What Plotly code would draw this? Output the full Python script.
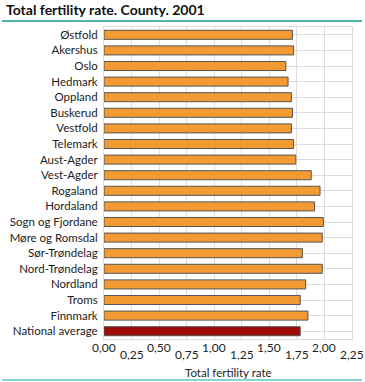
import plotly.graph_objects as go

counties = ["Østfold", "Akershus", "Oslo", "Hedmark", "Oppland", "Buskerud", "Vestfold",
            "Telemark", "Aust-Agder", "Vest-Agder", "Rogaland", "Hordaland", "Sogn og Fjordane",
            "Møre og Romsdal", "Sør-Trøndelag", "Nord-Trøndelag", "Nordland", "Troms",
            "Finnmark", "National average"]
values = [1.71, 1.72, 1.65, 1.67, 1.70, 1.71, 1.70, 1.72, 1.74, 1.88, 1.96, 1.91, 1.99,
          1.98, 1.80, 1.98, 1.83, 1.78, 1.85, 1.78]
tick_vals_upper = [0.0, 0.5, 1.0, 1.5, 2.0]
tick_text_upper = ["0,00", "0,50", "1,00", "1,50", "2,00"]
tick_vals_lower = [0.25, 0.75, 1.25, 1.75, 2.25]
tick_text_lower = ["0,25", "0,75", "1,25", "1,75", "2,25"]

colors = ["#f39a32"] * (len(counties) - 1) + ["#9b0d06"]

fig = go.Figure()
fig.add_trace(go.Bar(
    x=values, y=counties, orientation="h",
    marker=dict(color=colors, line=dict(color="#555555", width=1)),
    hoverinfo="x+y",
))

font_family = "Lato, Open Sans, Liberation Sans, Arial, sans-serif"
PH = 312.0  # plot height in px
PW = 248.0  # plot width in px

tick_annotations = []
for v, t in zip(tick_vals_upper, tick_text_upper):
    tick_annotations.append(dict(text=t, xref="x", yref="paper", x=v, y=-8/PH,
                                 xanchor="center", yanchor="middle", showarrow=False,
                                 font=dict(size=12, color="#222222")))
for v, t in zip(tick_vals_lower, tick_text_lower):
    tick_annotations.append(dict(text=t, xref="x", yref="paper", x=v, y=-15.5/PH,
                                 xanchor="center", yanchor="middle", showarrow=False,
                                 font=dict(size=12, color="#222222")))

fig.update_layout(
    width=365, height=382,
    margin=dict(l=104, r=13, t=27, b=43, autoexpand=False),
    paper_bgcolor="white", plot_bgcolor="white",
    showlegend=False,
    bargap=0.42,
    font=dict(family=font_family, size=11.5, color="#222222"),
    xaxis=dict(
        range=[0, 2.25], tickvals=sorted(tick_vals_upper + tick_vals_lower),
        showticklabels=False,
        showgrid=True, gridcolor="#dcdcdc", gridwidth=1,
        showline=True, linecolor="#dcdcdc", mirror=True,
        zeroline=False, ticks="", automargin=False,
    ),
    yaxis=dict(
        autorange="reversed", showgrid=True, gridcolor="#dcdcdc",
        showline=True, linecolor="#dcdcdc", mirror=True,
        ticks="", tickfont=dict(size=11.5), ticklabelstandoff=3,
        automargin=False,
    ),
    title=dict(text="<b>Total fertility rate. County. 2001</b>", x=6/365, xanchor="left",
               y=1 - 10/382, yanchor="middle", font=dict(size=14, color="#111111")),
    shapes=[
        dict(type="line", xref="paper", yref="paper", x0=-102/PW, x1=(362-104)/PW,
             y0=1 + 6/PH, y1=1 + 6/PH, line=dict(color="#1a9a8c", width=1.5)),
        dict(type="line", xref="paper", yref="paper", x0=-102/PW, x1=(362-104)/PW,
             y0=-41/PH, y1=-41/PH, line=dict(color="#5cc6c6", width=1.5)),
    ],
    annotations=tick_annotations + [
        dict(text="Total fertility rate", xref="paper", yref="paper", x=0.5, y=-33/PH,
             xanchor="center", yanchor="middle", showarrow=False,
             font=dict(size=11.5, color="#222222")),
    ],
)

fig.write_html("out.html", config={"displayModeBar": False},
               post_script="document.body.style.margin='0';")
